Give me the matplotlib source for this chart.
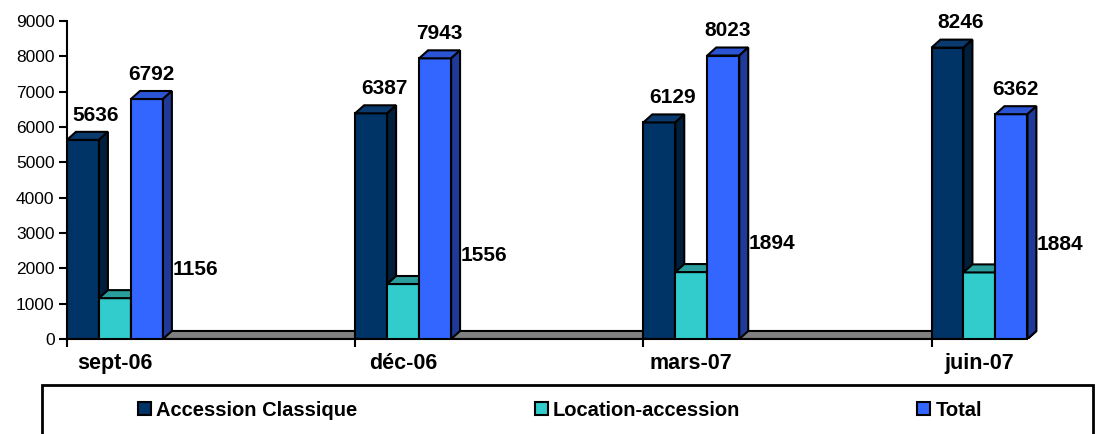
import matplotlib.pyplot as plt
from matplotlib.patches import Polygon, Rectangle
import numpy as np

plt.rcParams['font.family'] = ['Liberation Sans', 'DejaVu Sans']

# Données
categories = ["sept-06", "déc-06", "mars-07", "juin-07"]
series_names = ["Accession Classique", "Location-accession", "Total"]
accession_classique = [5636, 6387, 6129, 8246]
location_accession = [1156, 1556, 1894, 1884]
total = [6792, 7943, 8023, 6362]
all_series = [accession_classique, location_accession, total]

# couleurs : face avant, dessus, côté
front_colors = ["#003366", "#33CCCC", "#3366FF"]
top_colors = ["#0b3a6e", "#2a9d9d", "#2b55d4"]
side_colors = ["#001f3d", "#238080", "#1f3a99"]

fig = plt.figure(figsize=(10.98, 4.34), dpi=100)
ax = fig.add_axes([67 / 1098, 95 / 434, (1040 - 67) / 1098, (339 - 21) / 434])

x = np.arange(len(categories))
w = 0.111
dx = 0.031          # profondeur 3D en x (données)
dy = 227            # profondeur 3D en y (données)

ax.set_xlim(-1.5 * w, 3.21)
ax.set_ylim(0, 9000)

# plancher gris
x0 = x[0] - 1.5 * w
x1 = x[-1] + 1.5 * w
ax.add_patch(Polygon([(x0, 0), (x0 + dx, dy), (x1 + dx, dy), (x1, 0)],
                     closed=True, fc="#808080", ec="black", lw=1.5, zorder=1))

handles = []
for k, vals in enumerate(all_series):
    xs = x + (k - 1) * w
    bars = ax.bar(xs, vals, width=w, color=front_colors[k], edgecolor="black",
                  lw=1.5, zorder=2 + 3 * k, label=series_names[k])
    handles.append(bars)
    for xc, h in zip(xs, vals):
        l, r = xc - w / 2, xc + w / 2
        ax.add_patch(Polygon([(l, h), (l + dx, h + dy), (r + dx, h + dy), (r, h)],
                             closed=True, fc=top_colors[k], ec="black", lw=1.5,
                             zorder=2 + 3 * k + 1))
        ax.add_patch(Polygon([(r, 0), (r + dx, dy), (r + dx, h + dy), (r, h)],
                             closed=True, fc=side_colors[k], ec="black", lw=1.5,
                             zorder=2 + 3 * k + 1))

# étiquettes de valeurs
lab = dict(ha="center", va="center", fontsize=15, fontweight="bold", clip_on=False)
for i in range(len(categories)):
    ax.text(x[i] - w + 0.045, accession_classique[i] + 700, str(accession_classique[i]), **lab)
    ax.text(x[i] + w + 0.015, total[i] + 700, str(total[i]), **lab)
    ax.text(x[i] + 0.28, location_accession[i] + 800, str(location_accession[i]), **lab)

# axes
for s in ["top", "right"]:
    ax.spines[s].set_visible(False)
ax.spines["left"].set_linewidth(1.5)
ax.spines["bottom"].set_linewidth(1.5)
ax.spines["bottom"].set_bounds(x0, x1)
ax.spines["left"].set_zorder(20)

ax.set_yticks(np.arange(0, 9001, 1000))
ax.tick_params(axis="y", length=6, width=1.5, pad=3, labelsize=12.5)
ax.set_xticks(x)
ax.set_xticklabels(categories, fontsize=15.5, fontweight="bold")
ax.tick_params(axis="x", length=0, pad=10)
ax.set_xticks(x - 1.5 * w, minor=True)
ax.tick_params(axis="x", which="minor", length=6, width=1.5)

# légende
fig.add_artist(Rectangle((42 / 1098, -0.05), (1093 - 42) / 1098, (434 - 385) / 434 + 0.05,
                         transform=fig.transFigure, fill=False, ec="black", lw=2))
fig.legend(handles, series_names, ncol=3, mode="expand", loc="center",
           bbox_to_anchor=(120 / 1098, 0.02, 880 / 1098, 0.07), frameon=False,
           prop={"weight": "bold", "size": 14.5}, handlelength=0.65, handleheight=0.65,
           handletextpad=0.25)

fig.savefig("out.png", dpi=100)
